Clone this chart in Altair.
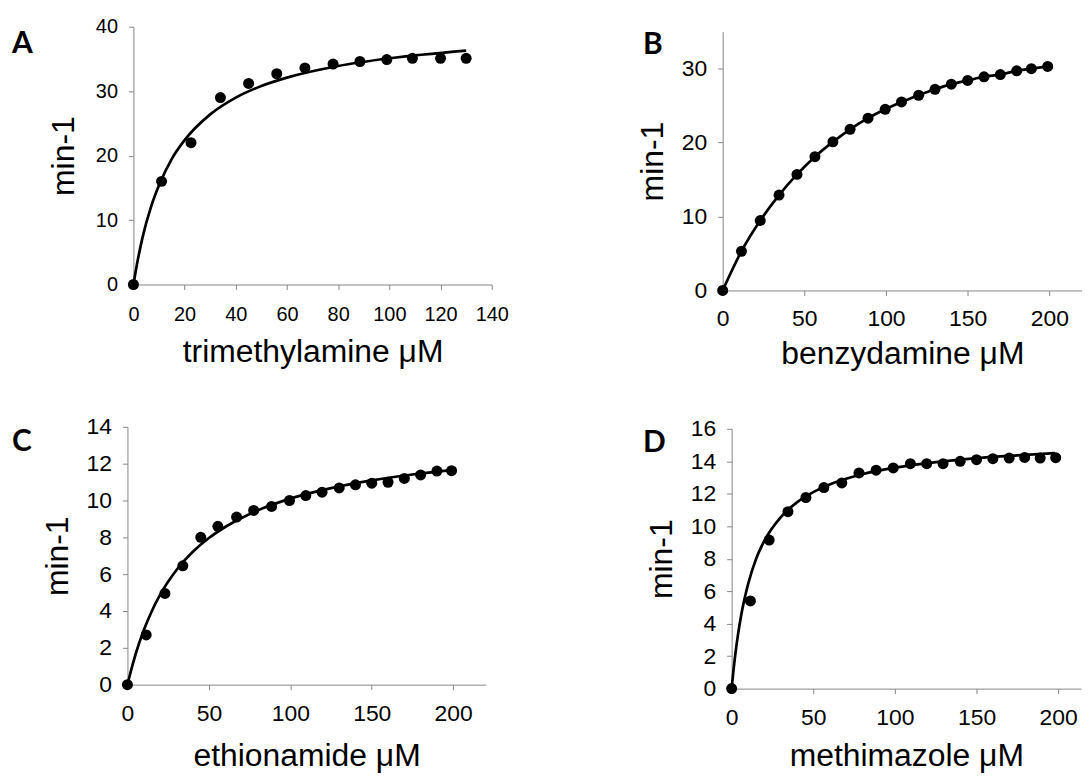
import altair as alt
import pandas as pd

# ---- data ----
# Panel A: trimethylamine
a_x = [0, 11, 22.5, 34, 45, 56, 67, 78, 88.5, 99, 109, 120, 130]
a_y = [0, 16.0, 22.0, 29.0, 31.2, 32.7, 33.6, 34.2, 34.6, 34.9, 35.1, 35.1, 35.1]
a_fit_x = [0, 1, 3.5, 7, 10, 15, 20, 30, 40, 50, 60, 80, 100, 130]
a_fit_y = [0, 2.3, 7.2, 12.2, 15.4, 19.5, 22.4, 26.4, 29.0, 30.8, 32.1, 33.9, 35.1, 36.3]

# Panel B: benzydamine
b_x = [0, 11.5, 23, 34.5, 45.5, 56.5, 67.5, 78, 89, 99.5, 109.5, 120, 130, 140, 150, 160, 170, 180, 189, 199]
b_y = [0, 5.3, 9.45, 12.9, 15.7, 18.1, 20.1, 21.8, 23.3, 24.5, 25.5, 26.4, 27.2, 27.9, 28.4, 28.9, 29.2, 29.7, 30.0, 30.3]
b_fit_x = b_x
b_fit_y = b_y

# Panel C: ethionamide
c_x = [0, 11.5, 23, 34, 45, 55.5, 67, 77.5, 88.5, 99.5, 109.5, 119.5, 130, 140, 150, 160, 170, 180, 190, 199]
c_y = [0, 2.7, 4.95, 6.45, 8.0, 8.6, 9.1, 9.46, 9.68, 10.0, 10.27, 10.45, 10.68, 10.85, 10.94, 10.99, 11.2, 11.39, 11.6, 11.62]
c_fit_x = [0, 2, 5, 10, 15, 20, 30, 40, 50, 60, 80, 100, 125, 150, 175, 199]
c_fit_y = [0, 0.7, 1.65, 2.95, 4.0, 4.87, 6.21, 7.2, 7.96, 8.56, 9.46, 10.1, 10.67, 11.09, 11.41, 11.65]

# Panel D: methimazole
d_x = [0, 11.5, 23, 34.5, 45.5, 56.5, 67.5, 78, 88.5, 99, 109.5, 119.5, 129.5, 140, 150, 160, 170, 179.5, 189, 198.5]
d_y = [0, 5.4, 9.15, 10.9, 11.77, 12.38, 12.67, 13.28, 13.45, 13.59, 13.85, 13.85, 13.85, 14.0, 14.1, 14.16, 14.2, 14.24, 14.2, 14.22]
d_fit_x = [0, 1, 2, 4, 6, 10, 15, 20, 30, 40, 50, 60, 80, 100, 125, 150, 175, 198]
d_fit_y = [0, 1.0, 1.9, 3.4, 4.6, 6.4, 8.0, 9.1, 10.55, 11.47, 12.1, 12.57, 13.2, 13.61, 13.95, 14.2, 14.37, 14.5]

x_ticks_a = [0, 20, 40, 60, 80, 100, 120, 140]
x_ticks_bcd = [0, 50, 100, 150, 200]
y_ticks_a = [0, 10, 20, 30, 40]
y_ticks_b = [0, 10, 20, 30]
y_ticks_c = [0, 2, 4, 6, 8, 10, 12, 14]
y_ticks_d = [0, 2, 4, 6, 8, 10, 12, 14, 16]

W = 361
H = 265
AX = "#868686"
FONT = "Liberation Sans"


def panel(px, py, fx, fy, xdom, xticks, xr, ydom, yticks, yr, xtitle, xtp, letter, lx, ly, fs, lpx):
    pts = pd.DataFrame({"x": px, "y": py})
    fit = pd.DataFrame({"x": fx, "y": fy})
    xaxis = alt.Axis(values=xticks, grid=False, domainColor=AX, tickColor=AX, tickSize=5,
                     labelFontSize=fs, labelFont=FONT, labelColor="black", labelPadding=lpx,
                     labelFlush=False, labelOverlap=False, title=xtitle, titleFont=FONT,
                     titleFontSize=32, titleFontWeight="normal", titleColor="black",
                     titlePadding=xtp, offset=yr[0] - H)
    yaxis = alt.Axis(values=yticks, grid=False, domainColor=AX, tickColor=AX, tickSize=5,
                     labelFontSize=fs, labelFont=FONT, labelColor="black", labelPadding=11,
                     labelFlush=False, labelOverlap=False, title="min-1", titleFont=FONT,
                     titleFontSize=32, titleFontWeight="normal", titleColor="black",
                     titlePadding=8, minExtent=45, maxExtent=45, offset=-xr[0])
    xs = alt.Scale(domain=xdom, range=xr, nice=False, zero=False)
    ys = alt.Scale(domain=ydom, range=yr, nice=False, zero=False)
    line = alt.Chart(fit).mark_line(color="black", strokeWidth=2.7, interpolate="monotone").encode(
        x=alt.X("x:Q", scale=xs, axis=xaxis),
        y=alt.Y("y:Q", scale=ys, axis=yaxis),
    )
    dots = alt.Chart(pts).mark_circle(color="black", opacity=1, size=122).encode(
        x=alt.X("x:Q", scale=xs, axis=xaxis),
        y=alt.Y("y:Q", scale=ys, axis=yaxis),
    )
    lab = alt.Chart(pd.DataFrame({"t": [letter]})).mark_text(
        align="left", baseline="alphabetic", font="Lato", fontSize=30, fontWeight="bold", color="black"
    ).encode(x=alt.value(lx), y=alt.value(ly), text="t:N")
    return alt.layer(line, dots, lab).properties(width=W, height=H)


pA = panel(a_x, a_y, a_fit_x, a_fit_y, [0, 140], x_ticks_a, [6, 366], [0, 40], y_ticks_a, [259, 0],
           "trimethylamine \u03bcM", 12, "A", -116, 26, 20, 15)
pB = panel(b_x, b_y, b_fit_x, b_fit_y, [0, 220], x_ticks_bcd, [0, 361], [0, 35], y_ticks_b, [265, 5],
           "benzydamine \u03bcM", 8, "B", -80, 27, 23, 12)
pC = panel(c_x, c_y, c_fit_x, c_fit_y, [0, 220], x_ticks_bcd, [0, 360], [0, 14], y_ticks_c, [259, 0],
           "ethionamide \u03bcM", 15, "C", -116, 24, 23, 13)
pD = panel(d_x, d_y, d_fit_x, d_fit_y, [0, 214], x_ticks_bcd, [9, 360], [0, 16], y_ticks_d, [263, 2],
           "methimazole \u03bcM", 11, "D", -80, 25, 23, 13)

chart = alt.concat(pA, pB, pC, pD, columns=2, spacing={"row": 137, "column": 237}, bounds="flush").properties(
    padding={"left": 4, "top": 7, "right": 0, "bottom": 0}
).configure_view(strokeWidth=0)

chart.save("out.html", embed_options={"renderer": "svg", "actions": False})
